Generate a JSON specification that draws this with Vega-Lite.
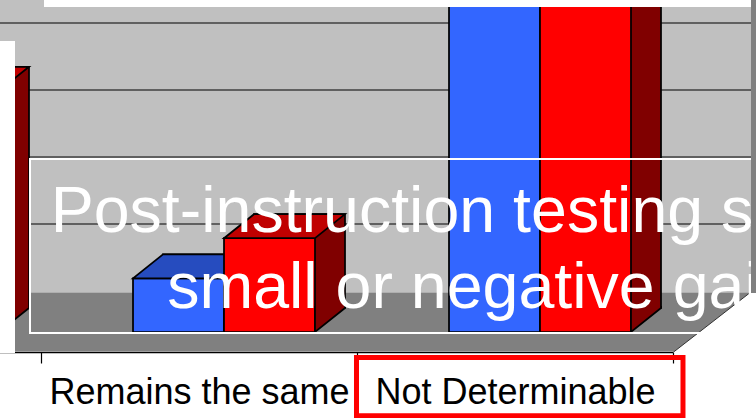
{
  "$schema": "https://vega.github.io/schema/vega-lite/v6.json",
  "width": 756,
  "height": 418,
  "padding": 0,
  "autosize": {"type": "none"},
  "background": "white",
  "config": {"view": {"stroke": null}},
  "datasets": {
    "bars": [
      {"category": "Improves", "series": "Pre-instruction", "value": 30},
      {"category": "Improves", "series": "Post-instruction", "value": 36},
      {"category": "Remains the same", "series": "Pre-instruction", "value": 8},
      {"category": "Remains the same", "series": "Post-instruction", "value": 14},
      {"category": "Not Determinable", "series": "Pre-instruction", "value": 55},
      {"category": "Not Determinable", "series": "Post-instruction", "value": 55}
    ],
    "grid": [{"level": 10}, {"level": 20}, {"level": 30}, {"level": 40}]
  },
  "data": {"values": [{"frame": "chart"}]},
  "resolve": {"scale": {"x": "independent", "y": "independent"}},
  "layer": [
    {
      "mark": {"type": "rect", "fill": "#C0C0C0"},
      "encoding": {
        "x": {"datum": 0.3, "type": "quantitative", "scale": {"domain": [0.37025, 2.76266], "nice": false, "zero": false}, "axis": null},
        "x2": {"datum": 2.74684},
        "y": {"datum": 5.8955, "type": "quantitative", "scale": {"domain": [-12.8358, 49.5522], "nice": false, "zero": false}, "axis": null},
        "y2": {"datum": 60}
      }
    },
    {
      "data": {"name": "grid"},
      "mark": {"type": "rule", "stroke": "black", "strokeWidth": 1.2},
      "encoding": {
        "y": {"field": "level", "type": "quantitative", "scale": {"domain": [-18.9552, 43.4328], "nice": false, "zero": false}, "axis": null}
      }
    },
    {
      "mark": {"type": "rect", "fill": "#808080"},
      "encoding": {
        "x": {"datum": 0.3, "type": "quantitative", "scale": {"domain": [0.37025, 2.76266], "nice": false, "zero": false}, "axis": null},
        "x2": {"datum": 2.74367},
        "y": {"datum": -2.8955, "type": "quantitative", "scale": {"domain": [-12.8358, 49.5522], "nice": false, "zero": false}, "axis": null},
        "y2": {"datum": 5.8955}
      }
    },
    {
      "mark": {"type": "point", "shape": "M0,0L90,-69.9L90,0", "size": 4, "filled": true, "fill": "white", "stroke": "#333333", "strokeWidth": 1, "opacity": 1},
      "encoding": {
        "x": {"datum": 2.5, "type": "quantitative", "scale": {"domain": [0.37025, 2.76266], "nice": false, "zero": false}, "axis": null},
        "y": {"datum": -3.0597, "type": "quantitative", "scale": {"domain": [-12.8358, 49.5522], "nice": false, "zero": false}, "axis": null}
      }
    },
    {
      "data": {"name": "bars"},
      "transform": [{"filter": {"field": "series", "equal": "Pre-instruction"}}],
      "mark": {"type": "bar", "fill": "#1A3380", "stroke": "black", "strokeWidth": 1.75},
      "encoding": {
        "x": {"field": "category", "type": "nominal", "scale": {"domain": ["Improves", "Remains the same", "Not Determinable"], "range": [-245, 703], "paddingInner": 0, "paddingOuter": 0}, "axis": null},
        "xOffset": {"field": "series", "type": "nominal", "scale": {"domain": ["Pre-instruction", "Post-instruction"], "paddingInner": 0, "paddingOuter": 0.7363, "align": 0.6866}},
        "y": {"field": "value", "type": "quantitative", "scale": {"domain": [-16.4179, 45.9701], "nice": false, "zero": false}, "axis": null},
        "y2": {"datum": 0}
      }
    },
    {
      "data": {"name": "bars"},
      "transform": [{"filter": {"field": "series", "equal": "Pre-instruction"}}],
      "mark": {"type": "bar", "fill": "#3366FF", "stroke": "black", "strokeWidth": 1.75},
      "encoding": {
        "x": {"field": "category", "type": "nominal", "scale": {"domain": ["Improves", "Remains the same", "Not Determinable"], "range": [-275, 673], "paddingInner": 0, "paddingOuter": 0},
          "axis": {"orient": "bottom", "offset": -66, "values": ["Remains the same", "Not Determinable"], "tickBand": "extent", "domainColor": "black", "domainWidth": 1.5, "tickColor": "black", "tickWidth": 1.2, "tickSize": 11, "labelFont": "Liberation Sans", "labelFontSize": 36, "labelColor": "black", "labelBaseline": "alphabetic", "labelPadding": 40, "labelOverlap": false, "labelBound": false, "labelFlush": false, "labelLimit": 0, "labelAngle": 0, "title": null, "grid": false, "zindex": 0}},
        "xOffset": {"field": "series", "type": "nominal", "scale": {"domain": ["Pre-instruction", "Post-instruction"], "paddingInner": 0, "paddingOuter": 0.7363, "align": 0.6866}},
        "y": {"field": "value", "type": "quantitative", "scale": {"domain": [-12.8358, 49.5522], "nice": false, "zero": false}, "axis": null},
        "y2": {"datum": 0}
      }
    },
    {
      "data": {"name": "bars"},
      "transform": [{"filter": {"field": "series", "equal": "Pre-instruction"}}],
      "mark": {"type": "point", "shape": "M-45.5,0L45.5,0L75.5,-24L-15.5,-24Z", "size": 4, "filled": true, "fill": "#264CBF", "stroke": "black", "strokeWidth": 1.75, "opacity": 1},
      "encoding": {
        "x": {"field": "category", "type": "nominal", "scale": {"domain": ["Improves", "Remains the same", "Not Determinable"], "range": [-275, 673], "paddingInner": 0, "paddingOuter": 0}, "axis": null},
        "xOffset": {"field": "series", "type": "nominal", "scale": {"domain": ["Pre-instruction", "Post-instruction"], "paddingInner": 0, "paddingOuter": 0.7363, "align": 0.6866}},
        "y": {"field": "value", "type": "quantitative", "scale": {"domain": [-12.8358, 49.5522], "nice": false, "zero": false}, "axis": null}
      }
    },
    {
      "data": {"name": "bars"},
      "transform": [{"filter": {"field": "series", "equal": "Pre-instruction"}}],
      "mark": {"type": "point", "shape": "M45.5,-26L45.5,0L75.5,-24L75.5,-26", "size": 4, "filled": true, "fill": "#1A3380", "stroke": "black", "strokeWidth": 1.75, "opacity": 1},
      "encoding": {
        "x": {"field": "category", "type": "nominal", "scale": {"domain": ["Improves", "Remains the same", "Not Determinable"], "range": [-275, 673], "paddingInner": 0, "paddingOuter": 0}, "axis": null},
        "xOffset": {"field": "series", "type": "nominal", "scale": {"domain": ["Pre-instruction", "Post-instruction"], "paddingInner": 0, "paddingOuter": 0.7363, "align": 0.6866}},
        "y": {"datum": 0, "type": "quantitative", "scale": {"domain": [-12.8358, 49.5522], "nice": false, "zero": false}, "axis": null}
      }
    },
    {
      "data": {"name": "bars"},
      "transform": [{"filter": {"field": "series", "equal": "Post-instruction"}}],
      "mark": {"type": "bar", "fill": "#800000", "stroke": "black", "strokeWidth": 1.75},
      "encoding": {
        "x": {"field": "category", "type": "nominal", "scale": {"domain": ["Improves", "Remains the same", "Not Determinable"], "range": [-245, 703], "paddingInner": 0, "paddingOuter": 0}, "axis": null},
        "xOffset": {"field": "series", "type": "nominal", "scale": {"domain": ["Pre-instruction", "Post-instruction"], "paddingInner": 0, "paddingOuter": 0.7363, "align": 0.6866}},
        "y": {"field": "value", "type": "quantitative", "scale": {"domain": [-16.4179, 45.9701], "nice": false, "zero": false}, "axis": null},
        "y2": {"datum": 0}
      }
    },
    {
      "data": {"name": "bars"},
      "transform": [{"filter": {"field": "series", "equal": "Post-instruction"}}],
      "mark": {"type": "bar", "fill": "#FF0000", "stroke": "black", "strokeWidth": 1.75},
      "encoding": {
        "x": {"field": "category", "type": "nominal", "scale": {"domain": ["Improves", "Remains the same", "Not Determinable"], "range": [-275, 673], "paddingInner": 0, "paddingOuter": 0}, "axis": null},
        "xOffset": {"field": "series", "type": "nominal", "scale": {"domain": ["Pre-instruction", "Post-instruction"], "paddingInner": 0, "paddingOuter": 0.7363, "align": 0.6866}},
        "y": {"field": "value", "type": "quantitative", "scale": {"domain": [-12.8358, 49.5522], "nice": false, "zero": false}, "axis": null},
        "y2": {"datum": 0}
      }
    },
    {
      "data": {"name": "bars"},
      "transform": [{"filter": {"field": "series", "equal": "Post-instruction"}}],
      "mark": {"type": "point", "shape": "M-45.5,0L45.5,0L75.5,-24L-15.5,-24Z", "size": 4, "filled": true, "fill": "#C00000", "stroke": "black", "strokeWidth": 1.75, "opacity": 1},
      "encoding": {
        "x": {"field": "category", "type": "nominal", "scale": {"domain": ["Improves", "Remains the same", "Not Determinable"], "range": [-275, 673], "paddingInner": 0, "paddingOuter": 0}, "axis": null},
        "xOffset": {"field": "series", "type": "nominal", "scale": {"domain": ["Pre-instruction", "Post-instruction"], "paddingInner": 0, "paddingOuter": 0.7363, "align": 0.6866}},
        "y": {"field": "value", "type": "quantitative", "scale": {"domain": [-12.8358, 49.5522], "nice": false, "zero": false}, "axis": null}
      }
    },
    {
      "data": {"name": "bars"},
      "transform": [{"filter": {"field": "series", "equal": "Post-instruction"}}],
      "mark": {"type": "point", "shape": "M45.5,-26L45.5,0L75.5,-24L75.5,-26", "size": 4, "filled": true, "fill": "#800000", "stroke": "black", "strokeWidth": 1.75, "opacity": 1},
      "encoding": {
        "x": {"field": "category", "type": "nominal", "scale": {"domain": ["Improves", "Remains the same", "Not Determinable"], "range": [-275, 673], "paddingInner": 0, "paddingOuter": 0}, "axis": null},
        "xOffset": {"field": "series", "type": "nominal", "scale": {"domain": ["Pre-instruction", "Post-instruction"], "paddingInner": 0, "paddingOuter": 0.7363, "align": 0.6866}},
        "y": {"datum": 0, "type": "quantitative", "scale": {"domain": [-12.8358, 49.5522], "nice": false, "zero": false}, "axis": null}
      }
    },
    {
      "mark": {"type": "rect", "fill": "white"},
      "encoding": {
        "x": {"datum": 0.3, "type": "quantitative", "scale": {"domain": [0.37025, 2.76266], "nice": false, "zero": false}, "axis": null},
        "x2": {"datum": 0.41772},
        "y": {"datum": -3.134, "type": "quantitative", "scale": {"domain": [-12.8358, 49.5522], "nice": false, "zero": false}, "axis": null},
        "y2": {"datum": 43.433}
      }
    },
    {
      "mark": {"type": "rect", "fill": "white"},
      "encoding": {
        "x": {"datum": 0.50949, "type": "quantitative", "scale": {"domain": [0.37025, 2.76266], "nice": false, "zero": false}, "axis": null},
        "x2": {"datum": 3},
        "y": {"datum": 48.507, "type": "quantitative", "scale": {"domain": [-12.8358, 49.5522], "nice": false, "zero": false}, "axis": null},
        "y2": {"datum": 60}
      }
    },
    {
      "mark": {"type": "rect", "filled": false, "stroke": "white", "strokeWidth": 2},
      "encoding": {
        "x": {"datum": 0.46519, "type": "quantitative", "scale": {"domain": [0.37025, 2.76266], "nice": false, "zero": false}, "axis": null},
        "x2": {"datum": 3.5},
        "y": {"datum": -0.1493, "type": "quantitative", "scale": {"domain": [-12.8358, 49.5522], "nice": false, "zero": false}, "axis": null},
        "y2": {"datum": 25.821}
      }
    },
    {
      "data": {"values": [{"lines": ["Post-instruction testing showed", "small or negative gains"]}]},
      "mark": {"type": "text", "font": "Liberation Sans", "fontSize": 64.5, "color": "white", "fill": "white", "align": "center", "baseline": "alphabetic", "lineHeight": 76},
      "encoding": {
        "text": {"field": "lines", "type": "nominal"},
        "x": {"datum": 1.94304, "type": "quantitative", "scale": {"domain": [0.37025, 2.76266], "nice": false, "zero": false}, "axis": null},
        "y": {"datum": 14.925, "type": "quantitative", "scale": {"domain": [-12.8358, 49.5522], "nice": false, "zero": false}, "axis": null}
      }
    },
    {
      "mark": {"type": "rect", "filled": false, "stroke": "#FF0000", "strokeWidth": 5},
      "encoding": {
        "x": {"datum": 1.4984, "type": "quantitative", "scale": {"domain": [0.37025, 2.76266], "nice": false, "zero": false}, "axis": null},
        "x2": {"datum": 2.5316},
        "y": {"datum": -12.507, "type": "quantitative", "scale": {"domain": [-12.8358, 49.5522], "nice": false, "zero": false}, "axis": null},
        "y2": {"datum": -3.806}
      }
    },
    {
      "mark": {"type": "rect", "fill": "#808080"},
      "encoding": {
        "x": {"datum": 2.74684, "type": "quantitative", "scale": {"domain": [0.37025, 2.76266], "nice": false, "zero": false}, "axis": null},
        "x2": {"datum": 2.9},
        "y": {"datum": 5.8209, "type": "quantitative", "scale": {"domain": [-12.8358, 49.5522], "nice": false, "zero": false}, "axis": null},
        "y2": {"datum": 60}
      }
    }
  ]
}
